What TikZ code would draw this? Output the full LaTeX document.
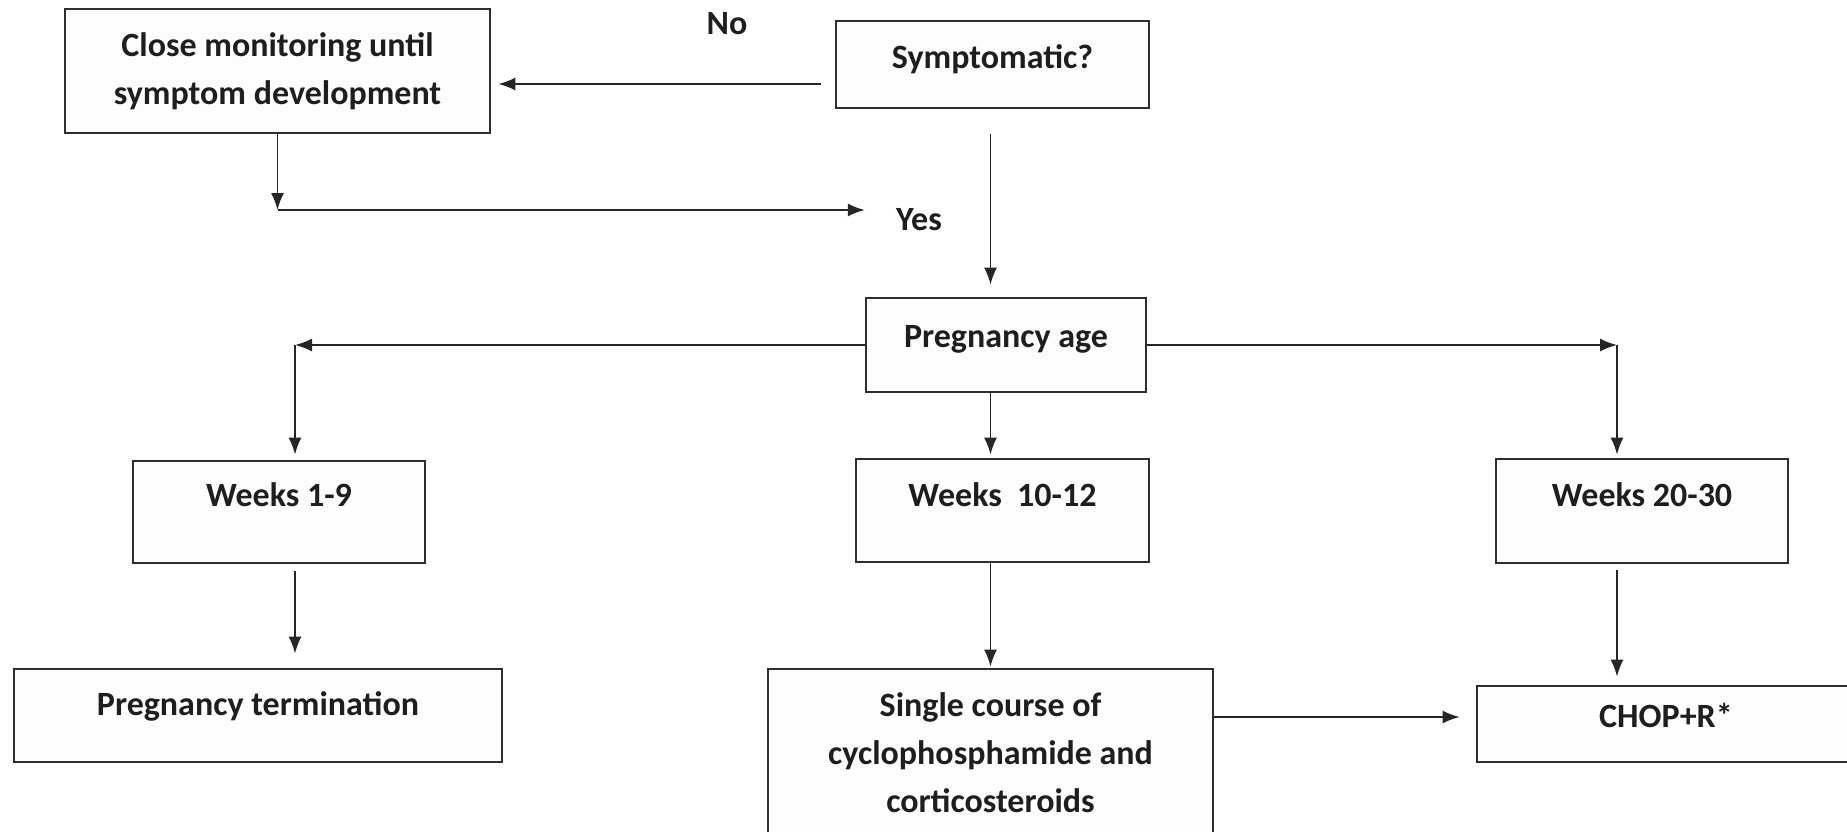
\documentclass[tikz,border=0pt]{standalone}
\usepackage{fontspec}
\setmainfont{Carlito}
\usetikzlibrary{arrows.meta}
\definecolor{boxfill}{HTML}{FDFDFB}
\definecolor{ink}{HTML}{1E1E1E}
\begin{document}
\begin{tikzpicture}[x=0.5pt,y=-0.5pt,
  font=\fontsize{17}{24}\selectfont\bfseries,
  box/.style={draw=black!82, line width=1.4pt, fill=boxfill, inner sep=0pt,
              align=center, text=ink},
  lbl/.style={inner sep=0pt, text=ink},
  arr/.style={draw=black!85, line width=0.85pt,
              -{Latex[length=8.5pt,width=6.5pt]}}]
\useasboundingbox (0,0) rectangle (1847,831);

% decision and waiting boxes
\node[box, minimum width=212.5pt, minimum height=62pt] (close) at (277.5,71)
  {Close monitoring until\\symptom development};
\node[box, minimum width=156.5pt, text height=23.5pt, text depth=20pt, anchor=base]
  (symp) at (992.5,68) {Symptomatic?};
\node[box, minimum width=140pt, text height=24.5pt, text depth=22.5pt, anchor=base]
  (preg) at (1006,347) {Pregnancy age};

% gestational windows
\node[box, minimum width=146pt, text height=22.5pt, text depth=28.5pt, anchor=base]
  (w19) at (279,506) {Weeks 1-9};
\node[box, minimum width=146.5pt, text height=23.5pt, text depth=28pt, anchor=base]
  (w1012) at (1002.5,506) {Weeks~ 10-12};
\node[box, minimum width=146pt, text height=23.5pt, text depth=28.5pt, anchor=base]
  (w2030) at (1642,506) {Weeks 20-30};

% treatments
\node[box, minimum width=244pt, text height=23pt, text depth=23.5pt, anchor=base]
  (term) at (258,715) {Pregnancy termination};
\node[box, minimum width=222.5pt, minimum height=84pt] (single) at (990.5,753)
  {Single course of\\cyclophosphamide and\\corticosteroids};
\node[box, minimum width=189pt, text height=20.5pt, text depth=17.5pt, anchor=base]
  (chop) at (1666,727) {CHOP+R*};

% branch labels
\node[lbl] (no) at (727,24) {No};
\node[lbl] (yes) at (919,220) {Yes};

% connectors
\draw[arr, shorten <=7pt, shorten >=3.5pt] (symp.west |- 0,84) -- (close.east |- 0,84);
\draw[arr] (close.south) -- (close.south |- 0,210);
\draw[arr, shorten >=15.5pt] (close.south |- 0,210) -- (yes.west |- 0,210);
\draw[arr, shorten <=12.5pt, shorten >=6pt] (symp.south -| single.north) -- (preg.north -| single.north);

\draw[arr] (preg.west) -- (preg.west -| 295,0);
\draw[arr, shorten >=2.5pt] (preg.west -| 295,0) -- (w19.north -| 295,0);
\draw[arr] (preg.east) -- (preg.east -| 1617,0);
\draw[arr, shorten >=1.5pt] (preg.east -| 1617,0) -- (w2030.north -| 1617,0);
\draw[arr, shorten >=1.5pt] (preg.south -| single.north) -- (w1012.north -| single.north);

\draw[arr, shorten <=3.5pt, shorten >=7pt] (w19.south -| 295,0) -- (term.north -| 295,0);
\draw[arr, shorten >=0.5pt] (w1012.south -| single.north) -- (single.north);
\draw[arr, shorten <=3pt, shorten >=4pt] (w2030.south -| 1617,0) -- (chop.north -| 1617,0);
\draw[arr, shorten >=8pt] (single.east |- 0,717) -- (chop.west |- 0,717);
\end{tikzpicture}
\end{document}
